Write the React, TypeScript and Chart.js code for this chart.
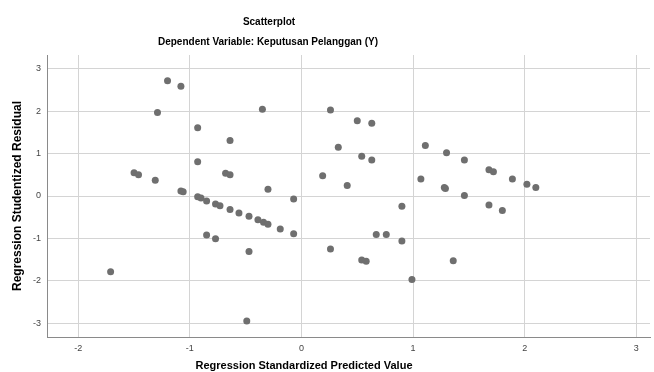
import React, { useEffect, useRef } from "react";
import { Chart, registerables } from "chart.js";

Chart.register(...registerables);

const predicted: number[] = [
  -1.5, -1.46, -1.31, -1.2, -1.08, -1.29, -1.08, -1.06, -0.93, -0.93,
  -0.93, -0.9, -0.85, -0.77, -0.73, -0.64, -0.56, -0.47, -0.39, -0.34,
  -0.3, -0.19, -0.07, -0.64, -0.68, -0.64, -0.35, -0.3, -0.07, 0.19,
  0.26, -0.85, -0.77, -0.47, -1.71, -0.49, 0.26, 0.5, 0.63, 0.33,
  0.54, 0.63, 0.41, 0.9, 1.11, 1.3, 1.46, 1.68, 1.72, 1.89,
  2.02, 2.1, 1.07, 1.28, 1.29, 1.46, 1.68, 1.8, 0.67, 0.76,
  0.9, 0.54, 0.58, 1.36, 0.99,
];
const residual: number[] = [
  0.55, 0.5, 0.37, 2.72, 2.59, 1.97, 0.12, 0.1, 1.61, 0.81,
  -0.02, -0.05, -0.12, -0.19, -0.23, -0.32, -0.4, -0.48, -0.56, -0.62,
  -0.67, -0.78, -0.89, 1.31, 0.54, 0.5, 2.05, 0.16, -0.07, 0.48,
  2.03, -0.92, -1.01, -1.31, -1.79, -2.95, -1.25, 1.78, 1.72, 1.15,
  0.94, 0.85, 0.25, -0.24, 1.19, 1.02, 0.85, 0.62, 0.57, 0.4,
  0.28, 0.2, 0.4, 0.2, 0.18, 0.01, -0.21, -0.34, -0.91, -0.91,
  -1.06, -1.51, -1.54, -1.53, -1.97,
];
const xTicks: number[] = [-2, -1, 0, 1, 2, 3];
const yTicks: number[] = [-3, -2, -1, 0, 1, 2, 3];

const chartTitle = "Scatterplot";
const chartSubtitle = "Dependent Variable: Keputusan Pelanggan (Y)";
const xTitle = "Regression Standardized Predicted Value";
const yTitle = "Regression Studentized Residual";

const FONT = "'Liberation Sans', Arial, sans-serif";

export default function App() {
  const ref = useRef<HTMLCanvasElement | null>(null);

  useEffect(() => {
    document.body.style.margin = "0";
    const canvas = ref.current;
    if (!canvas) return;

    const textPlugin = {
      id: "texts",
      afterDraw(chart: any) {
        const ctx = chart.ctx;
        ctx.save();
        ctx.fillStyle = "#000";
        ctx.textAlign = "center";
        ctx.textBaseline = "middle";
        ctx.font = `bold 10px ${FONT}`;
        ctx.fillText(chartTitle, 269, 22);
        ctx.fillText(chartSubtitle, 268, 42);
        ctx.font = `bold 11px ${FONT}`;
        ctx.fillText(xTitle, 304, 366);
        ctx.font = `bold 12px ${FONT}`;
        ctx.translate(18, 196);
        ctx.rotate(-Math.PI / 2);
        ctx.fillText(yTitle, 0, 0);
        ctx.restore();
      },
    };

    const chart = new Chart(canvas, {
      type: "scatter",
      data: {
        datasets: [
          {
            data: predicted.map((x, i) => ({ x, y: residual[i] })),
            backgroundColor: "#6f6f6f",
            borderColor: "#6f6f6f",
            borderWidth: 0,
            pointRadius: 3.5,
          },
        ],
      },
      options: {
        animation: false,
        responsive: false,
        devicePixelRatio: 1,
        layout: { padding: { top: 55, right: 0, left: 0, bottom: 0 } },
        plugins: { legend: { display: false }, tooltip: { enabled: false }, title: { display: false } },
        scales: {
          x: {
            type: "linear",
            min: -2.28,
            max: 3.123,
            afterBuildTicks: (s: any) => {
              s.ticks = xTicks.map((v) => ({ value: v }));
            },
            afterFit: (s: any) => {
              s.height = 35;
            },
            grid: { color: "#d4d4d4", lineWidth: 1, drawTicks: false },
            border: { color: "#8a8a8a", width: 1 },
            ticks: { color: "#444", font: { size: 9, family: FONT }, padding: 6 },
          },
          y: {
            type: "linear",
            min: -3.33,
            max: 3.33,
            afterBuildTicks: (s: any) => {
              s.ticks = yTicks.map((v) => ({ value: v }));
            },
            afterFit: (s: any) => {
              s.width = 47;
            },
            grid: { color: "#d4d4d4", lineWidth: 1, drawTicks: false },
            border: { color: "#8a8a8a", width: 1 },
            ticks: { color: "#444", font: { size: 9, family: FONT }, padding: 6 },
          },
        },
      },
      plugins: [textPlugin],
    } as any);

    return () => chart.destroy();
  }, []);

  return <canvas ref={ref} width={654} height={372} style={{ display: "block" }} />;
}
